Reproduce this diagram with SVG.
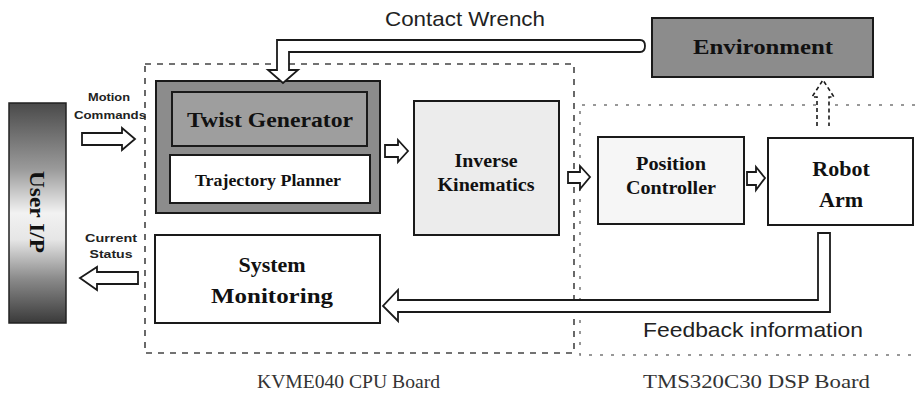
<svg xmlns="http://www.w3.org/2000/svg" width="917" height="398" viewBox="0 0 917 398">
  <style>
    .box { stroke: #1a1a1a; stroke-width: 2; }
    .dark { fill: #8c8c8c; }
    .mid { fill: #9e9e9e; }
    .light { fill: #ececec; }
    .pale { fill: #f6f6f6; }
    .white { fill: #ffffff; }
    .board { fill: none; stroke: #444; stroke-width: 1.6; stroke-dasharray: 6 6; }
    .board2 { fill: none; stroke: #777; stroke-width: 1.5; stroke-dasharray: 3 8; }
    .arrow { fill: #ffffff; stroke: #1a1a1a; stroke-width: 1.8; stroke-linejoin: miter; }
    .dasharrow { fill: #ffffff; stroke: #1a1a1a; stroke-width: 1.6; stroke-dasharray: 4 3; }
    .serif { font-family: "Liberation Serif", "Times New Roman", serif; font-weight: bold; fill: #111; text-anchor: middle; }
    .sans { font-family: "Liberation Sans", Arial, sans-serif; fill: #222; text-anchor: start; }
    .tiny { font-family: "Liberation Sans", Arial, sans-serif; font-weight: bold; fill: #222; text-anchor: middle; font-size: 11px; }
    .caption { font-family: "Liberation Serif", "Times New Roman", serif; fill: #333; font-size: 19px; }
  </style>
  <defs>
    <linearGradient id="userGrad" x1="0" y1="0" x2="0" y2="1">
      <stop offset="0" stop-color="#4a4a4a"/>
      <stop offset="0.3" stop-color="#9a9a9a"/>
      <stop offset="0.5" stop-color="#f2f2f2"/>
      <stop offset="0.62" stop-color="#e6e6e6"/>
      <stop offset="0.8" stop-color="#8a8a8a"/>
      <stop offset="1" stop-color="#3a3a3a"/>
    </linearGradient>
  </defs>

  <!-- board outlines -->
  <g id="cpu-board">
    <rect class="board" x="145" y="64" width="429" height="289"/>
    <text class="caption" x="257" y="388" textLength="183" lengthAdjust="spacingAndGlyphs">KVME040 CPU Board</text>
  </g>
  <g id="dsp-board">
    <path class="board2" d="M915,105 L580,105 L580,355 L915,355"/>
    <text class="caption" x="643" y="388" textLength="227" lengthAdjust="spacingAndGlyphs">TMS320C30 DSP Board</text>
  </g>

  <!-- nodes -->
  <g id="user-ip">
    <rect x="9" y="103" width="57" height="220" fill="url(#userGrad)" stroke="#222" stroke-width="1.5"/>
    <text class="serif" font-weight="normal" font-size="22" transform="translate(30,212) rotate(90)" textLength="82" lengthAdjust="spacingAndGlyphs">User I/P</text>
  </g>

  <g id="twist-generator">
    <rect class="box dark" x="156" y="81" width="224" height="132"/>
    <rect class="box mid" x="172" y="92" width="195" height="54"/>
    <text class="serif" font-size="21" x="270" y="127" textLength="166" lengthAdjust="spacingAndGlyphs">Twist Generator</text>
  </g>

  <g id="trajectory-planner">
    <rect class="box white" x="170" y="155" width="200" height="48"/>
    <text class="serif" font-size="16" x="268" y="186" textLength="146" lengthAdjust="spacingAndGlyphs">Trajectory Planner</text>
  </g>

  <g id="inverse-kinematics">
    <rect class="box light" x="414" y="101" width="145" height="134"/>
    <text class="serif" font-size="18" x="486" y="167" textLength="63" lengthAdjust="spacingAndGlyphs">Inverse</text>
    <text class="serif" font-size="18" x="486" y="191" textLength="97" lengthAdjust="spacingAndGlyphs">Kinematics</text>
  </g>

  <g id="position-controller">
    <rect class="box pale" x="598" y="137" width="146" height="87"/>
    <text class="serif" font-size="18" x="671" y="170" textLength="70" lengthAdjust="spacingAndGlyphs">Position</text>
    <text class="serif" font-size="18" x="671" y="194" textLength="90" lengthAdjust="spacingAndGlyphs">Controller</text>
  </g>

  <g id="robot-arm">
    <rect class="box white" x="768" y="138" width="145" height="87"/>
    <text class="serif" font-size="22" x="841" y="176">Robot</text>
    <text class="serif" font-size="22" x="841" y="207">Arm</text>
  </g>

  <g id="system-monitoring">
    <rect class="box white" x="155" y="235" width="225" height="88"/>
    <text class="serif" font-size="22" x="272" y="272">System</text>
    <text class="serif" font-size="22" x="272" y="303" textLength="122" lengthAdjust="spacingAndGlyphs">Monitoring</text>
  </g>

  <g id="environment">
    <rect class="box dark" x="652" y="18" width="221" height="59"/>
    <text class="serif" font-size="20" x="763" y="54" textLength="140" lengthAdjust="spacingAndGlyphs">Environment</text>
  </g>

  <!-- connectors -->
  <g id="connectors">
    <!-- contact wrench: environment to twist generator -->
    <path class="arrow" d="M640,40 L277,40 L277,70 L268,70 L283,83 L298,70 L289,70 L289,52 L640,52 Q645,52 645,46 Q645,40 640,40 Z"/>
    <text class="sans" font-size="21" x="385" y="26" textLength="160" lengthAdjust="spacingAndGlyphs">Contact Wrench</text>

    <!-- feedback: robot arm to system monitoring -->
    <path class="arrow" d="M818,233 L830,233 L830,312 L398,312 L398,321 L383,306 L398,290 L398,300 L818,300 Z"/>
    <text class="sans" font-size="21" x="643" y="337" textLength="220" lengthAdjust="spacingAndGlyphs">Feedback information</text>

    <!-- robot arm to environment -->
    <path class="dasharrow" d="M817,126 L817,97 L812,97 L823,80 L834,97 L829,97 L829,126"/>

    <!-- motion commands: user I/P to twist generator -->
    <path class="arrow" d="M82,133 L122,133 L122,128 L135,139 L122,150 L122,145 L82,145 Z"/>
    <text class="tiny" x="109" y="101" textLength="42" lengthAdjust="spacingAndGlyphs">Motion</text>
    <text class="tiny" x="110" y="119" textLength="72" lengthAdjust="spacingAndGlyphs">Commands</text>

    <!-- current status: system monitoring to user I/P -->
    <path class="arrow" d="M138,272 L97,272 L97,267 L80,278 L97,290 L97,284 L138,284 Z"/>
    <text class="tiny" x="111" y="242" textLength="52" lengthAdjust="spacingAndGlyphs">Current</text>
    <text class="tiny" x="111" y="258" textLength="43" lengthAdjust="spacingAndGlyphs">Status</text>

    <!-- twist generator to inverse kinematics -->
    <path class="arrow" d="M385,145 L398,145 L398,140 L408,151 L398,162 L398,157 L385,157 Z"/>
    <!-- inverse kinematics to position controller -->
    <path class="arrow" d="M568,172 L580,172 L580,166 L590,177 L580,189 L580,183 L568,183 Z"/>
    <!-- position controller to robot arm -->
    <path class="arrow" d="M747,172 L756,172 L756,167 L765,178 L756,190 L756,185 L747,185 Z"/>
  </g>
</svg>
